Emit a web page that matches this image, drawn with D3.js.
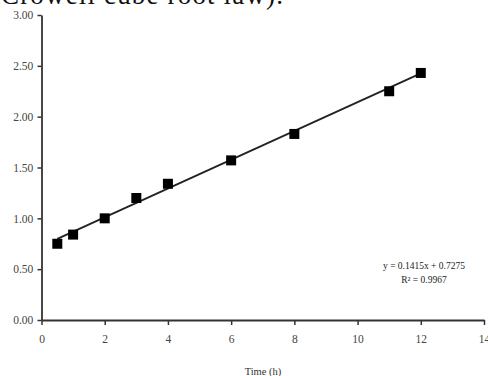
<!DOCTYPE html>
<html>
<head>
<meta charset="utf-8">
<script src="https://cdn.jsdelivr.net/npm/d3@7"></script>
<style>
  body { margin: 0; background: #fff; }
  svg { display: block; font-family: "Liberation Serif", "DejaVu Serif", serif; }
</style>
</head>
<body>
<svg id="chart" width="488" height="376"></svg>
<script>
// measured points (time in h, value)
const times = [0.5, 1, 2, 3, 4, 6, 8, 11, 12];
const values = [0.75, 0.84, 1.00, 1.20, 1.34, 1.57, 1.83, 2.25, 2.43];
const xTicks = [0, 2, 4, 6, 8, 10, 12, 14];
const yTicks = [0, 0.5, 1, 1.5, 2, 2.5, 3];
const fitSlope = 0.1415;
const fitIntercept = 0.7275;
const fitLabels = ["y = 0.1415x + 0.7275", "R² = 0.9967"];

const svg = d3.select("#chart");
const x = d3.scaleLinear().domain([0, 14]).range([41.5, 484]);
const y = d3.scaleLinear().domain([0, 3]).range([320, 15]);

// caption fragment cut off at the top of the crop
svg.append("text")
  .attr("x", 1).attr("y", 4)
  .attr("font-size", 27)
  .attr("textLength", 282)
  .attr("fill", "#111")
  .text("Crowell cube root law).");

const xAxis = svg.append("g")
  .attr("transform", `translate(0,${y(0)})`)
  .call(d3.axisBottom(x).tickValues(xTicks).tickSize(5).tickSizeOuter(0).tickFormat(d3.format("d")));
const yAxis = svg.append("g")
  .attr("transform", `translate(${x(0)},0)`)
  .call(d3.axisLeft(y).tickValues(yTicks).tickSize(4).tickSizeOuter(0).tickFormat(d3.format(".2f")));

[xAxis, yAxis].forEach(a => {
  a.select(".domain").attr("stroke", "#333").attr("stroke-width", 1.8);
  a.selectAll(".tick line").attr("stroke", "#333").attr("stroke-width", 1.5);
  a.selectAll("text").attr("fill", "#444").attr("font-size", 11.5).attr("font-family", "Liberation Serif, serif");
});
xAxis.selectAll("text").attr("dy", "1.3em");
yAxis.selectAll("text").attr("dx", "-0.1em");

// trend line
const fitX = [d3.min(times), d3.max(times)];
svg.append("line")
  .attr("x1", x(fitX[0])).attr("y1", y(fitSlope * fitX[0] + fitIntercept))
  .attr("x2", x(fitX[1])).attr("y2", y(fitSlope * fitX[1] + fitIntercept))
  .attr("stroke", "#222").attr("stroke-width", 1.8);

// square markers
const s = 10;
svg.selectAll(".pt")
  .data(times.map((t, i) => ({t, v: values[i]})))
  .enter()
  .append("rect")
    .attr("class", "pt")
    .attr("x", d => x(d.t) - s / 2)
    .attr("y", d => y(d.v) - s / 2)
    .attr("width", s)
    .attr("height", s)
    .attr("fill", "#000");

svg.selectAll(".fit")
  .data(fitLabels)
  .enter()
  .append("text")
    .attr("x", 424)
    .attr("y", (d, i) => 269 + i * 14)
    .attr("text-anchor", "middle")
    .attr("font-size", 9.5)
    .attr("fill", "#222")
    .text(d => d);

svg.append("text")
  .attr("x", 263).attr("y", 375)
  .attr("text-anchor", "middle")
  .attr("font-size", 10.5)
  .attr("fill", "#333")
  .text("Time (h)");
</script>
</body>
</html>
